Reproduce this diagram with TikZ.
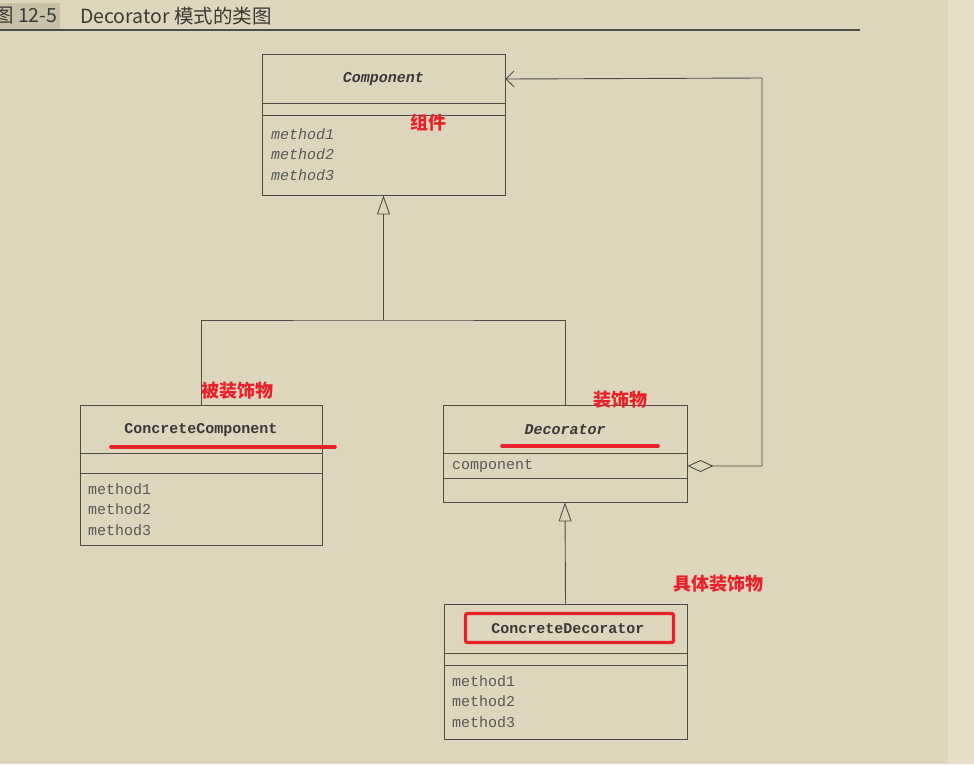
\documentclass[tikz,border=0pt]{standalone}
\usepackage{fontspec}
\setmainfont{Liberation Sans}
\setmonofont{Liberation Mono}
\newfontfamily\cjk{Noto Sans CJK SC}
\usetikzlibrary{arrows.meta}

\definecolor{paper}{HTML}{DDD5BC}
\definecolor{paperedge}{HTML}{E6DEC8}
\definecolor{ink}{HTML}{4E4D48}
\definecolor{textink}{HTML}{3A3936}
\definecolor{memberink}{HTML}{5A5954}
\definecolor{note}{HTML}{E8202A}
\definecolor{tagbg}{HTML}{C9C1A7}

\begin{document}
\begin{tikzpicture}[x=1pt,y=-1pt,
  line/.style={draw=ink, line width=0.9pt},
  classbox/.style={line, rectangle, inner sep=0pt},
  clsname/.style={font=\fontsize{15}{18}\selectfont\ttfamily\bfseries, text=textink, inner sep=0pt},
  members/.style={font=\fontsize{15}{20.5}\selectfont\ttfamily, text=memberink, align=left, anchor=west, inner sep=0pt},
  gen/.style={line, -{Triangle[open, length=19pt, width=13pt, fill=paper]}},
  redlabel/.style={font=\fontsize{18}{20}\selectfont\cjk\bfseries, text=note, inner sep=0pt},
  redmark/.style={draw=note, line width=3.6pt, line cap=round},
  captionfont/.style={font=\fontsize{19.5}{22}\selectfont\cjk, text=textink, anchor=west, inner sep=0pt},
]
% page
\fill[paper] (0,0) rectangle (974,764);
\fill[paperedge] (948,0) rectangle (974,764);
\useasboundingbox (0,0) rectangle (974,764);

% caption
\fill[tagbg] (0,3) rectangle (60,29);
\node[captionfont] (tag) at (-6,16) {图 12-5};
\node[captionfont] (caption) at (80,16) {Decorator 模式的类图};
\draw[draw=ink, line width=1.3pt] (0,30) -- (860,30);

% Component
\node[classbox, minimum width=243pt, minimum height=141pt] (comp) at (383.5,124.5) {};
\draw[line] (comp.west |- 0,103) -- (comp.east |- 0,103);
\draw[line] (comp.west |- 0,115) -- (comp.east |- 0,115);
\node[clsname, font=\fontsize{15}{18}\selectfont\ttfamily\bfseries\itshape] (compname) at (383.5,79) {Component};
\node[members, font=\fontsize{15}{20.5}\selectfont\ttfamily\itshape] (compm) at (271,154.5) {method1\\method2\\method3};

% ConcreteComponent
\node[classbox, minimum width=242pt, minimum height=140pt] (cc) at (201,475) {};
\draw[line] (cc.west |- 0,453) -- (cc.east |- 0,453);
\draw[line] (cc.west |- 0,473) -- (cc.east |- 0,473);
\node[clsname] (ccname) at (201,430) {ConcreteComponent};
\node[members] (ccm) at (88,509.5) {method1\\method2\\method3};

% Decorator
\node[classbox, minimum width=244pt, minimum height=97pt] (dec) at (565,453.5) {};
\draw[line] (dec.west |- 0,453) -- (dec.east |- 0,453);
\draw[line] (dec.west |- 0,478) -- (dec.east |- 0,478);
\node[clsname, font=\fontsize{15}{18}\selectfont\ttfamily\bfseries\itshape] (decname) at (565,430) {Decorator};
\node[members] (decattr) at (452,466) {component};

% ConcreteDecorator
\node[classbox, minimum width=243pt, minimum height=135pt] (cd) at (565.5,671.5) {};
\draw[line] (cd.west |- 0,653) -- (cd.east |- 0,653);
\draw[line] (cd.west |- 0,665) -- (cd.east |- 0,665);
\node[clsname] (cdname) at (568,629) {ConcreteDecorator};
\node[members] (cdm) at (452,701.5) {method1\\method2\\method3};

% generalization tree
\coordinate (join) at (383.5,320);
\draw[line] (cc.north) |- (join) -| (dec.north);
\draw[gen] (join) -- (comp.south);
\draw[gen] (cd.north) -- (dec.south);

% aggregation back to Component
\coordinate (aggstart) at (dec.east |- decattr);
\coordinate (aggend) at (comp.east |- compname);
\coordinate (aggturn) at (762,78);
\draw[line, {Diamond[open, length=26pt, width=12pt, fill=paper]}-{Straight Barb[length=8pt, width=16pt, line width=0.9pt]}]
  (aggstart) -| (aggturn) -- (aggend);

% red annotations
\node[redlabel] (lblcomp) at (428,123) {组件};
\node[redlabel] (lblcc) at (237,391) {被装饰物};
\node[redlabel] (lbldec) at (620,400) {装饰物};
\node[redlabel] (lblcd) at (718,584) {具体装饰物};
\draw[redmark] (111,447) -- (335,447);
\draw[redmark] (502,446) -- (658,446);
\node[draw=note, line width=3.4pt, rounded corners=2pt, minimum width=208pt, minimum height=29pt, inner sep=0pt] (cdmark) at (569.5,628) {};
\end{tikzpicture}
\end{document}
